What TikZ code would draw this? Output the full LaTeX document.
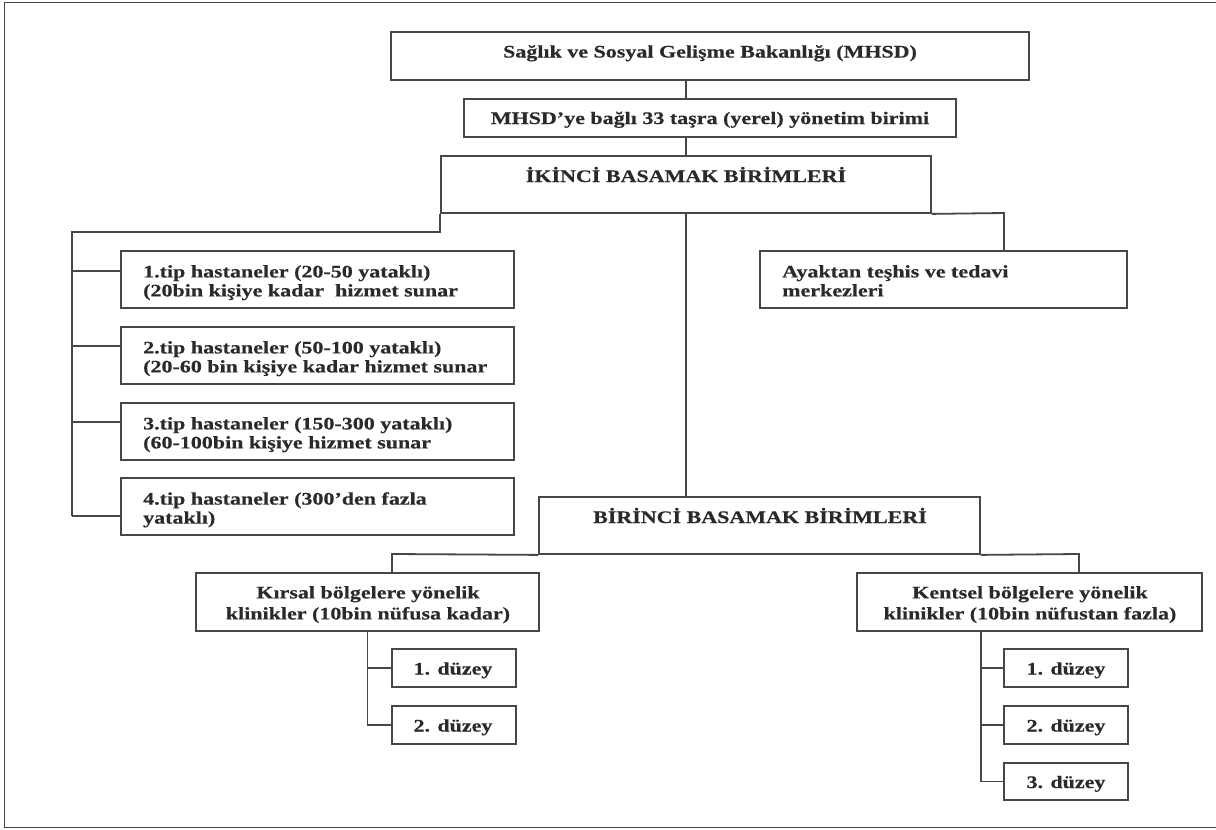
\documentclass[tikz,border=0pt]{standalone}
\usepackage{fontspec}
\setmainfont{Liberation Serif}[FakeStretch=1.25,BoldFeatures={FakeBold=0.4}]
\definecolor{ln}{HTML}{474747}
\definecolor{tx}{HTML}{2A2A2A}
\begin{document}
\begin{tikzpicture}[x=1pt,y=-1pt,
  box/.style={draw=ln,line width=1.8pt,inner sep=0pt,anchor=center},
  conn/.style={draw=ln,line width=1.8pt},
  txt/.style={inner sep=0pt,text=tx,font=\fontsize{17.6}{19}\selectfont\bfseries},
  txtw/.style={txt,font=\fontsize{17.6}{21}\selectfont\bfseries}]
\useasboundingbox (0,0) rectangle (1216,830);
\fill[white] (0,0) rectangle (1216,830);
% frame
\draw[conn] (1220,2.5) -- (4.5,2.5) -- (4.5,827.5) -- (1220,827.5);

% boxes
\node[box,minimum width=638pt,minimum height=48pt] (b1) at (710,56) {};
\node[box,minimum width=492pt,minimum height=38pt] (b2) at (710,118) {};
\node[box,minimum width=490pt,minimum height=57pt] (b3) at (686,184.5) {};
\node[box,minimum width=393pt,minimum height=57pt] (bA) at (317.5,279.5) {};
\node[box,minimum width=393pt,minimum height=57pt] (bB) at (317.5,355.5) {};
\node[box,minimum width=393pt,minimum height=57pt] (bC) at (317.5,431.5) {};
\node[box,minimum width=393pt,minimum height=57pt] (bD) at (317.5,506.5) {};
\node[box,minimum width=367pt,minimum height=57pt] (ay) at (943.5,279.5) {};
\node[box,minimum width=441pt,minimum height=57pt] (bir) at (759.5,525.5) {};
\node[box,minimum width=343pt,minimum height=58pt] (kr) at (367.5,602) {};
\node[box,minimum width=345pt,minimum height=58pt] (ke) at (1029.5,602) {};
\node[box,minimum width=124pt,minimum height=38pt] (kd1) at (454,668) {};
\node[box,minimum width=124pt,minimum height=38pt] (kd2) at (454,725) {};
\node[box,minimum width=124pt,minimum height=38pt] (ed1) at (1066,668) {};
\node[box,minimum width=124pt,minimum height=38pt] (ed2) at (1066,725) {};
\node[box,minimum width=124pt,minimum height=37pt] (ed3) at (1066,781.5) {};

% texts
\node[txt,anchor=base] (t1) at (710,57.5) {Sağlık ve Sosyal Gelişme Bakanlığı (MHSD)};
\node[txt,anchor=base] (t2) at (710,124) {MHSD’ye bağlı 33 taşra (yerel) yönetim birimi};
\node[txt,anchor=base] (t3) at (686,182) {İKİNCİ BASAMAK BİRİMLERİ};
\node[txt,anchor=north west,align=left] (tA) at (143,265) {1.tip hastaneler (20-50 yataklı)\\(20bin kişiye kadar\ \ hizmet sunar};
\node[txt,anchor=north west,align=left] (tB) at (143,341) {2.tip hastaneler (50-100 yataklı)\\(20-60 bin kişiye kadar hizmet sunar};
\node[txt,anchor=north west,align=left] (tC) at (143,417) {3.tip hastaneler (150-300 yataklı)\\(60-100bin kişiye hizmet sunar};
\node[txt,anchor=north west,align=left] (tD) at (143,492) {4.tip hastaneler (300’den fazla\\yataklı)};
\node[txt,anchor=north west,align=left] (tay) at (782,265) {Ayaktan teşhis ve tedavi\\merkezleri};
\node[txt,anchor=base] (tbir) at (760,523) {BİRİNCİ BASAMAK BİRİMLERİ};
\node[txtw,anchor=north,align=center] (tkr) at (368,586) {Kırsal bölgelere yönelik\\klinikler (10bin nüfusa kadar)};
\node[txtw,anchor=north,align=center] (tke) at (1030,586) {Kentsel bölgelere yönelik\\klinikler (10bin nüfustan fazla)};
\node[txt,anchor=base] (tkd1) at (453,674.5) {1. düzey};
\node[txt,anchor=base] (tkd2) at (453,731.5) {2. düzey};
\node[txt,anchor=base] (ted1) at (1066,674.5) {1. düzey};
\node[txt,anchor=base] (ted2) at (1066,731.5) {2. düzey};
\node[txt,anchor=base] (ted3) at (1066,788) {3. düzey};

% coordinates
\coordinate (railtop) at (72,232);
\coordinate (railbot) at (72,516);
\coordinate (sA) at (72,271);
\coordinate (sB) at (72,346);
\coordinate (sC) at (72,422);
\coordinate (sD) at (72,516);
\coordinate (aybr) at (1004,213);
\coordinate (krc) at (392,554);
\coordinate (kec) at (1079,554);
\coordinate (kes) at (981,631);

% connectors
\draw[conn] (b3.north |- b1.south) -- (b3.north |- b2.north);
\draw[conn] (b3.north |- b2.south) -- (b3.north);
\draw[conn] (b3.south west) |- (railtop) -- (railbot);
\draw[conn] (sA) -- (sA -| bA.west);
\draw[conn] (sB) -- (sB -| bB.west);
\draw[conn] (sC) -- (sC -| bC.west);
\draw[conn] (sD) -- (sD -| bD.west);
\draw[conn] (b3.south east) -- (aybr) -- (aybr |- ay.north);
\draw[conn] (b3.south) -- (b3.south |- bir.north);
\draw[conn] (bir.south west) -- (krc) -- (krc |- kr.north);
\draw[conn] (bir.south east) -- (kec) -- (kec |- ke.north);
\draw[conn] (kr.south) |- (kd1.west);
\draw[conn] (kr.south) |- (kd2.west);
\draw[conn] (kes) |- (ed1.west);
\draw[conn] (kes) |- (ed2.west);
\draw[conn] (kes) |- (ed3.west);
\end{tikzpicture}
\end{document}
